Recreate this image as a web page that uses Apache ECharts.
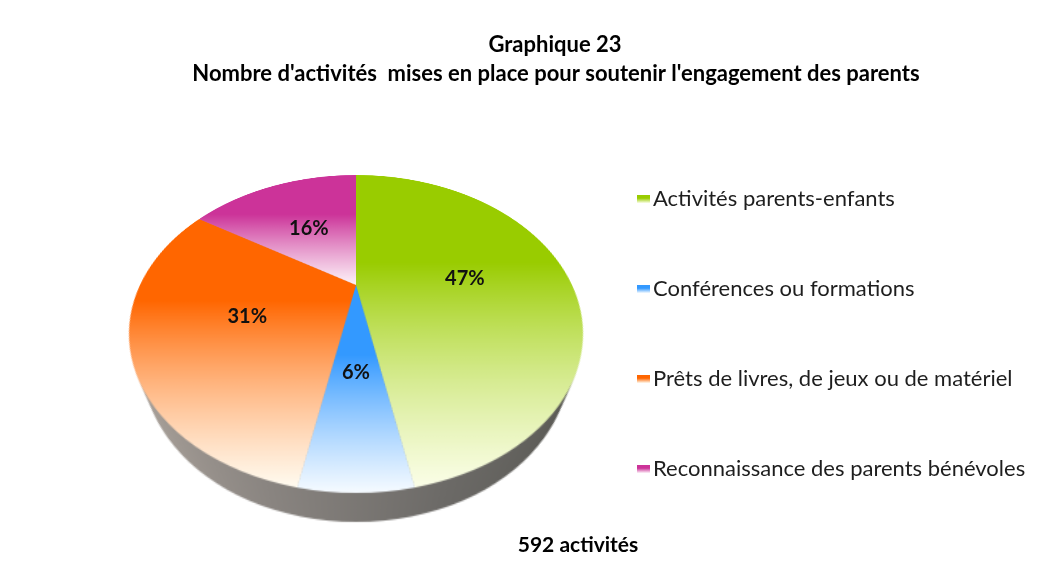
<!DOCTYPE html>
<html>
<head>
<meta charset="utf-8">
<script src="https://cdn.jsdelivr.net/npm/echarts@6/dist/echarts.min.js"></script>
<style>
  html, body { margin: 0; padding: 0; background: #fff; }
  #wrap { position: relative; width: 1050px; height: 577px; overflow: hidden; }
  /* the pie is drawn flat, then tilted with a css perspective to get the 3d look */
  #pie-3d {
    position: absolute; left: 0; top: 0; width: 1050px; height: 577px;
    transform-origin: 356px 285px;
    transform: perspective(523px) rotateX(48.24deg);
  }
  #chart-front { position: absolute; left: 0; top: 0; width: 1050px; height: 577px; }
</style>
</head>
<body>
<div id="wrap">
  <div id="pie-3d"></div>
  <div id="chart-front"></div>
</div>
<script>
const categories = [
  'Activités parents-enfants',
  'Conférences ou formations',
  'Prêts de livres, de jeux ou de matériel',
  'Reconnaissance des parents bénévoles'
]
const counts = [278, 36, 183, 95]
const sliceColors = ['#99cc00', '#3399ff', '#ff6600', '#cc3399']
const fadeColors = ['#fbfee8', '#f6fbff', '#fffbf0', '#fdf3f9']
const titleLines = ['Graphique 23', "Nombre d'activités  mises en place pour soutenir l'engagement des parents"]
const totalLabel = '592 activités'

// geometry of the tilted pie
const CX = 356, CY = 285, R = 216
const TILT = 48.24 * Math.PI / 180
const PERSP = 523
const BASE_R = 191, DEPTH = 45, LAYERS = 18
const FONT = 'Lato, "Open Sans", sans-serif'

const total = counts.reduce((a, b) => a + b, 0)

function fade(c, f, stop) {
  return {
    type: 'linear', x: 0, y: 0, x2: 0, y2: 1,
    colorStops: [{offset: 0, color: c}, {offset: stop, color: c}, {offset: 1, color: f}]
  }
}

// ---------- tilted pie (slices + side wall) ----------
const pieChart = echarts.init(document.getElementById('pie-3d'), null, {devicePixelRatio: 2})
const sideSeries = []
for (let i = LAYERS; i >= 1; i--) {
  const t = i / LAYERS
  sideSeries.push({
    type: 'pie',
    silent: true,
    z: 2,
    center: [CX, CY + DEPTH * t],
    radius: R + (BASE_R - R) * t,
    label: {show: false},
    labelLine: {show: false},
    itemStyle: {
      borderWidth: 0,
      color: {
        type: 'linear', x: 0, y: 0, x2: 1, y2: 0,
        colorStops: [
          {offset: 0, color: '#b2a9a1'},
          {offset: 0.35, color: '#8a8581'},
          {offset: 0.65, color: '#6c6a67'},
          {offset: 1, color: '#55554f'}
        ]
      }
    },
    data: [{value: total, name: 'side'}]
  })
}
pieChart.setOption({
  animation: false,
  series: sideSeries.concat([{
    type: 'pie',
    silent: true,
    z: 3,
    center: [CX, CY],
    radius: R,
    startAngle: 90,
    clockwise: true,
    label: {show: false},
    labelLine: {show: false},
    itemStyle: {borderWidth: 0},
    data: categories.map((name, i) => ({
      name: name,
      value: counts[i],
      itemStyle: {color: fade(sliceColors[i], fadeColors[i], 0.42)}
    }))
  }])
})

// ---------- texts, legend and percent labels (not tilted) ----------
const front = echarts.init(document.getElementById('chart-front'))
front.setOption({
  animation: false,
  legend: {
    orient: 'vertical',
    left: 632,
    top: 181,
    icon: 'rect',
    itemWidth: 13,
    itemHeight: 8,
    itemGap: 64,
    selectedMode: false,
    textStyle: {fontFamily: FONT, fontSize: 22, color: '#1e1e1e', lineHeight: 26, padding: [0, 0, 0, -2]},
    data: categories.map((name, i) => ({
      name: name,
      itemStyle: {color: fade(sliceColors[i], fadeColors[i], 0.4), opacity: 1}
    }))
  },
  graphic: [
    {type: 'text', x: 555, y: 45, style: {text: titleLines[0], font: 'bold 22px ' + FONT, fill: '#000', align: 'center', verticalAlign: 'middle'}},
    {type: 'text', x: 556, y: 74, style: {text: titleLines[1], font: 'bold 22px ' + FONT, fill: '#000', align: 'center', verticalAlign: 'middle'}},
    {type: 'text', x: 578, y: 545, style: {text: totalLabel, font: 'bold 21px ' + FONT, fill: '#000', align: 'center', verticalAlign: 'middle'}}
  ],
  series: [{
    type: 'pie',
    silent: true,
    center: [CX, CY],
    radius: R,
    startAngle: 90,
    clockwise: true,
    itemStyle: {color: 'rgba(0,0,0,0)', borderWidth: 0},
    emphasis: {disabled: true},
    label: {
      show: true,
      position: 'inside',
      fontFamily: FONT,
      fontSize: 20,
      fontWeight: 'bold',
      color: '#111',
      formatter: p => Math.round(p.percent) + '%'
    },
    // project the flat label spot onto the tilted pie
    labelLayout: function (p) {
      const r = p.labelRect
      const lx = r.x + r.width / 2 - CX
      const ly = r.y + r.height / 2 - CY
      const f = 1 / (1 - ly * Math.sin(TILT) / PERSP)
      return {
        x: CX + lx * f,
        y: CY + ly * Math.cos(TILT) * f,
        align: 'center',
        verticalAlign: 'middle'
      }
    },
    data: categories.map((name, i) => ({name: name, value: counts[i]}))
  }]
})
</script>
</body>
</html>
